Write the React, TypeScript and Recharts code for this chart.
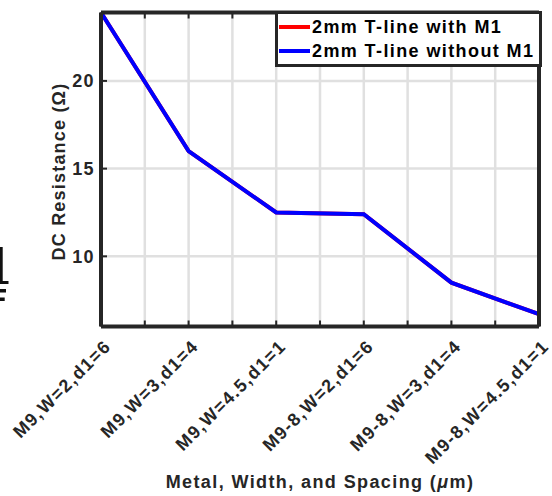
import { LineChart, Line, XAxis, YAxis, CartesianGrid, Legend } from 'recharts';

const categories = [
  'M9,W=2,d1=6',
  'M9,W=3,d1=4',
  'M9,W=4.5,d1=1',
  'M9-8,W=2,d1=6',
  'M9-8,W=3,d1=4',
  'M9-8,W=4.5,d1=1',
];
const withM1 = [23.9, 16.0, 12.5, 12.4, 8.5, 6.7];
const withoutM1 = [23.9, 16.0, 12.5, 12.4, 8.5, 6.7];
const seriesNames = ['2mm T-line with M1', '2mm T-line without M1'];
const xTicks = [0, 0.5, 1, 1.5, 2, 2.5, 3, 3.5, 4, 4.5, 5];
const yTicks = [10, 15, 20];
const yDomain = [6, 23.9];

const data = categories.map((label, i) => ({
  pos: i,
  label,
  withM1: withM1[i],
  withoutM1: withoutM1[i],
}));

const AXIS = '#262626';
const FONT = '"Liberation Sans", Arial, Helvetica, sans-serif';
const textStyle = { fontFamily: FONT, fontWeight: 700, fontSize: 18, letterSpacing: 1.4 };

// ticks point inward, like a boxed MATLAB axes
function BottomTick({ x, y, payload }: any) {
  const v = payload.value;
  const label = Number.isInteger(v) ? categories[v] : null;
  const tx = x + 11;
  const ty = y + 21;
  return (
    <g>
      <line x1={x} x2={x} y1={y} y2={y - 6} stroke={AXIS} strokeWidth={2} />
      {label && (
        <text x={tx} y={ty} transform={`rotate(-45 ${tx} ${ty})`} textAnchor="end" fill={AXIS} style={textStyle}>
          {label}
        </text>
      )}
    </g>
  );
}

function TopTick({ x, y }: any) {
  return <line x1={x} x2={x} y1={y} y2={y + 6} stroke={AXIS} strokeWidth={2} />;
}

function LeftTick({ x, y, payload }: any) {
  return (
    <g>
      <line x1={x} x2={x + 6} y1={y} y2={y} stroke={AXIS} strokeWidth={2} />
      <text x={x - 6} y={y} dy="0.36em" textAnchor="end" fill={AXIS} style={textStyle}>
        {payload.value}
      </text>
    </g>
  );
}

function RightTick({ x, y }: any) {
  return <line x1={x} x2={x - 6} y1={y} y2={y} stroke={AXIS} strokeWidth={2} />;
}

function LegendBox({ payload }: any) {
  return (
    <div
      style={{
        border: `3px solid ${AXIS}`,
        background: '#fff',
        padding: '1px 5px 1px 1px',
        ...textStyle,
        color: '#000',
        lineHeight: '24px',
      }}
    >
      {(payload || []).map((e: any) => (
        <div key={e.value} style={{ display: 'flex', alignItems: 'center', whiteSpace: 'nowrap' }}>
          <span style={{ display: 'inline-block', width: 31, height: 4, background: e.color, marginRight: 2 }} />
          {e.value}
        </div>
      ))}
    </div>
  );
}

export default function App() {
  return (
    <div style={{ position: 'absolute', left: 0, top: 0, width: 552, height: 496, background: '#fff' }}>
      <svg width={12} height={310} style={{ position: 'absolute', left: 0, top: 0 }}>
        <rect x={0} y={247} width={2.7} height={37} fill="#111" />
        <rect x={0} y={281} width={8.5} height={3} fill="#111" />
        <rect x={0} y={289} width={6} height={3.5} fill="#111" />
        <rect x={0} y={297.5} width={4.7} height={3.5} fill="#111" />
      </svg>
      <LineChart width={552} height={496} data={data} margin={{ top: 11.5, right: 12, bottom: 4.5, left: 41 }}>
        <CartesianGrid stroke="#e0e0e0" strokeWidth={2.5} />
        <XAxis
          dataKey="pos"
          type="number"
          domain={[0, 5]}
          ticks={xTicks}
          interval={0}
          height={165}
          tickSize={0}
          tickMargin={0}
          tickLine={false}
          axisLine={{ stroke: AXIS, strokeWidth: 4 }}
          tick={<BottomTick />}
          label={{
            content: ({ viewBox }: any) => (
              <text
                x={viewBox.x + viewBox.width / 2}
                y={viewBox.y + viewBox.height - 3.5}
                textAnchor="middle"
                fill={AXIS}
                style={textStyle}
              >
                Metal, Width, and Spacing (<tspan fontStyle="italic">μ</tspan>m)
              </text>
            ),
          }}
        />
        <XAxis
          xAxisId="top"
          orientation="top"
          dataKey="pos"
          type="number"
          domain={[0, 5]}
          ticks={xTicks}
          interval={0}
          height={1}
          tickSize={0}
          tickMargin={0}
          tickLine={false}
          axisLine={{ stroke: AXIS, strokeWidth: 4 }}
          tick={<TopTick />}
        />
        <YAxis
          type="number"
          domain={yDomain}
          ticks={yTicks}
          width={60}
          tickSize={0}
          tickMargin={0}
          tickLine={false}
          axisLine={{ stroke: AXIS, strokeWidth: 4 }}
          tick={<LeftTick />}
          label={{
            content: ({ viewBox }: any) => {
              const lx = viewBox.x + 24;
              const ly = viewBox.y + viewBox.height / 2 + 2;
              return (
                <text
                  x={lx}
                  y={ly}
                  transform={`rotate(-90 ${lx} ${ly})`}
                  textAnchor="middle"
                  fill={AXIS}
                  style={{ ...textStyle, letterSpacing: 1.2 }}
                >
                  DC Resistance (Ω)
                </text>
              );
            },
          }}
        />
        <YAxis
          yAxisId="right"
          orientation="right"
          type="number"
          domain={yDomain}
          ticks={yTicks}
          width={1}
          tickSize={0}
          tickMargin={0}
          tickLine={false}
          axisLine={{ stroke: AXIS, strokeWidth: 4 }}
          tick={<RightTick />}
        />
        <Legend
          layout="vertical"
          align="center"
          verticalAlign="middle"
          wrapperStyle={{ left: 275, top: 11, width: 'auto' }}
          content={<LegendBox />}
        />
        <Line
          dataKey="withM1"
          name={seriesNames[0]}
          stroke="#ff0000"
          strokeWidth={4}
          dot={false}
          isAnimationActive={false}
        />
        <Line
          dataKey="withoutM1"
          name={seriesNames[1]}
          stroke="#0000ff"
          strokeWidth={4}
          dot={false}
          isAnimationActive={false}
        />
      </LineChart>
    </div>
  );
}
